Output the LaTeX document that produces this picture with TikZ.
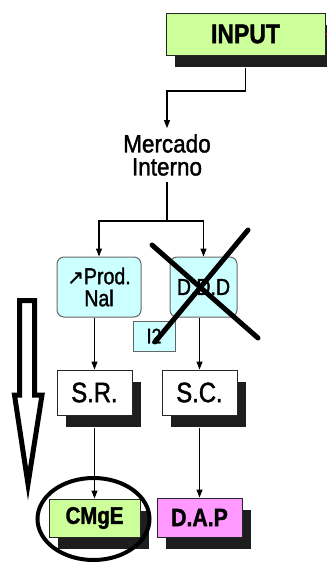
\documentclass[tikz,border=0pt]{standalone}
\usepackage{fontspec}
\setmainfont{Liberation Sans}[FakeStretch=0.9, FakeBold=1.5]
\newfontfamily\narrowsf{Liberation Sans}[FakeStretch=0.85, FakeBold=1.5]
\newfontfamily\symsf{DejaVu Sans}[FakeBold=1]
\usetikzlibrary{arrows.meta,shadows}
\definecolor{inputgreen}{HTML}{CCFF99}
\definecolor{boxcyan}{HTML}{CCFFFF}
\definecolor{dappink}{HTML}{FF99FF}
\definecolor{shadowgray}{HTML}{1E1E1E}
\begin{document}
\begin{tikzpicture}[x=1pt,y=-1pt]

\tikzstyle blk=[draw=black!85, line width=1pt, inner sep=0pt, drop shadow={shadow xshift=9pt, shadow yshift=-12pt, fill=shadowgray, opacity=1}]
\tikzstyle rbox=[draw=black!60, line width=1pt, rounded corners=7pt, fill=boxcyan, inner sep=0pt, align=center, minimum height=60pt]
\tikzstyle conn=[line width=1.1pt, -{Triangle[length=8pt,width=6pt]}]
\tikzstyle cross=[line width=5pt, line cap=round]

\useasboundingbox (0,0) rectangle (327,563);

\node (input) [blk, fill=inputgreen, minimum width=159pt, minimum height=42pt, font=\narrowsf\bfseries\fontsize{27}{27}\selectfont] at (245.5,34) {INPUT};
\node (merc) [align=center, inner xsep=2pt, inner ysep=6pt, font=\fontsize{25}{23}\selectfont] at (167,155) {Mercado\\Interno};

\node (prod) [rbox, minimum width=84pt, font=\narrowsf\fontsize{23}{22}\selectfont] at (99,287) {{\symsf\fontsize{20}{20}\selectfont ↗}Prod.\\Nal};
\node (ddd) [rbox, minimum width=67pt, font=\narrowsf\fontsize{23}{22}\selectfont] at (203.5,287) {D.D.D};
\node (i2) [draw=black!60, line width=1pt, fill=boxcyan, minimum width=42pt, minimum height=30pt, inner sep=0pt, font=\narrowsf\fontsize{21}{21}\selectfont] at (154,336) {I2};

\node (sr) [blk, fill=white, minimum width=75pt, minimum height=45pt, font=\narrowsf\fontsize{28}{28}\selectfont] at (94.5,392.5) {S.R.};
\node (sc) [blk, fill=white, minimum width=75pt, minimum height=45pt, font=\narrowsf\fontsize{28}{28}\selectfont] at (199.5,392.5) {S.C.};

\node (cmge) [blk, fill=inputgreen, minimum width=91pt, minimum height=38pt, font=\narrowsf\bfseries\fontsize{24}{24}\selectfont] at (94.5,518) {CMgE};
\node (dap) [blk, fill=dappink, minimum width=85pt, minimum height=39pt, font=\narrowsf\bfseries\fontsize{25}{25}\selectfont] at (199.5,517.5) {D.A.P};

\coordinate (bend) at (245.5,91);
\coordinate (split) at (168,221);
\coordinate (redend) at (330,34);

\draw [red, line width=2pt] (input.east) -- (redend);
\draw [conn] ([yshift=-12pt]input.south) -- (bend) -| (merc.north);
\draw [line width=1.1pt] (merc.south) -- (merc.south |- split);
\draw [conn] (split) -| (prod.north);
\draw [conn] (split) -| (ddd.north);

\foreach \a/\b in {prod/sr, ddd/sc}
\draw [conn] (\a.south -| \b.north) -- (\b.north);
\foreach \a/\b in {sr/cmge, sc/dap}
\draw [conn] ([yshift=-12pt]\a.south) -- (\b.north);

% crossed out demand
\draw [cross] (152,245) -- (258,338);
\draw [cross] (248,230) -- (155,342);

% ring round the marginal cost
\draw [line width=4pt] (93.5,519) ellipse [x radius=56, y radius=41];

% big hollow arrow
\draw [line width=5pt, fill=white, line join=miter] (19.5,300.5) -- (34.5,300.5) -- (34.5,395) -- (42,395) -- (28,484) -- (14.5,395) -- (19.5,395) -- cycle;

\end{tikzpicture}
\end{document}
